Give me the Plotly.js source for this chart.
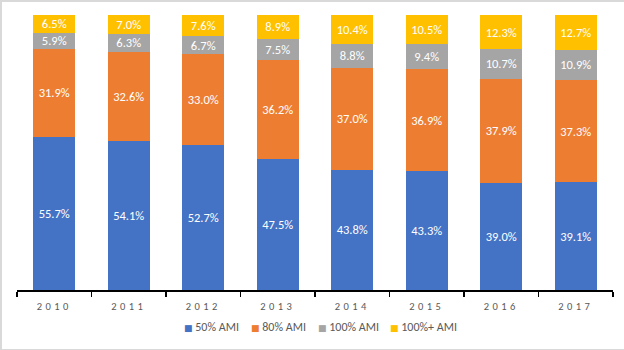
<!DOCTYPE html>
<html>
<head>
<meta charset="utf-8">
<script src="https://cdn.plot.ly/plotly-3.0.1.min.js"></script>
<style>
html,body{margin:0;padding:0;background:#fff;}
#wrap{position:relative;width:624px;height:350px;}
#chart{width:624px;height:350px;}
#frame{position:absolute;left:0;top:0;width:622px;height:347px;border-left:2px solid #d9d9d9;border-top:2px solid #d9d9d9;border-bottom:2px solid #d9d9d9;pointer-events:none;}
#chart .xtick text{letter-spacing:3.4px;}
</style>
</head>
<body>
<div id="wrap"><div id="chart"></div><div id="frame"></div></div>
<script>
const years = ['2010','2011','2012','2013','2014','2015','2016','2017'];
const ami50  = [55.7, 54.1, 52.7, 47.5, 43.8, 43.3, 39.0, 39.1];
const ami80  = [31.9, 32.6, 33.0, 36.2, 37.0, 36.9, 37.9, 37.3];
const ami100 = [5.9, 6.3, 6.7, 7.5, 8.8, 9.4, 10.7, 10.9];
const ami100p= [6.5, 7.0, 7.6, 8.9, 10.4, 10.5, 12.3, 12.7];
const seriesNames = ['50% AMI','80% AMI','100% AMI','100%+ AMI'];
const colors = ['#4472C4','#ED7D31','#A5A5A5','#FFC000'];
const vals = [ami50, ami80, ami100, ami100p];
const font = 'Carlito, "Liberation Sans", Arial, sans-serif';
const traces = vals.map((v,i)=>({
  type:'bar', x:years, y:v, name:seriesNames[i],
  marker:{color:colors[i]},
  texttemplate:'%{y:.1f}%', textposition:'inside', insidetextanchor:'middle',
  textangle:0, constraintext:'none',
  textfont:{color:'#ffffff', size:12.5, family:font},
  hoverinfo:'skip', showlegend:false
}));
// legend drawn as text items (marker glyph + name)
const legendX = [182, 249, 316, 388];
const W = 596, L = 17;
const annotations = seriesNames.map((n,i)=>({
  xref:'paper', yref:'paper', x:(legendX[i]-L)/W, y:-0.135,
  xanchor:'left', yanchor:'middle', showarrow:false,
  text:'<span style="color:'+colors[i]+'; font-family:DejaVu Sans; font-size:9px">■</span><span> </span>'+n,
  font:{size:12, color:'#595959', family:font}
}));
const layout = {
  width:624, height:350,
  margin:{l:17, r:11, t:15, b:60},
  barmode:'stack', bargap:0.436,
  paper_bgcolor:'#ffffff', plot_bgcolor:'#ffffff',
  font:{family:font, color:'#595959', size:11},
  showlegend:false,
  annotations:annotations,
  xaxis:{type:'category',
         showline:true, linecolor:'#000000', linewidth:1.5,
         ticks:'outside', tickson:'boundaries', ticklen:5, tickcolor:'#000000', tickwidth:1.5,
         ticklabelstandoff:6,
         tickfont:{size:10.5, color:'#595959', family:font},
         showgrid:false, zeroline:false, fixedrange:true},
  yaxis:{range:[0,100], visible:false, showgrid:false, zeroline:false, fixedrange:true}
};
Plotly.newPlot('chart', traces, layout, {staticPlot:true, displayModeBar:false});
</script>
</body>
</html>
